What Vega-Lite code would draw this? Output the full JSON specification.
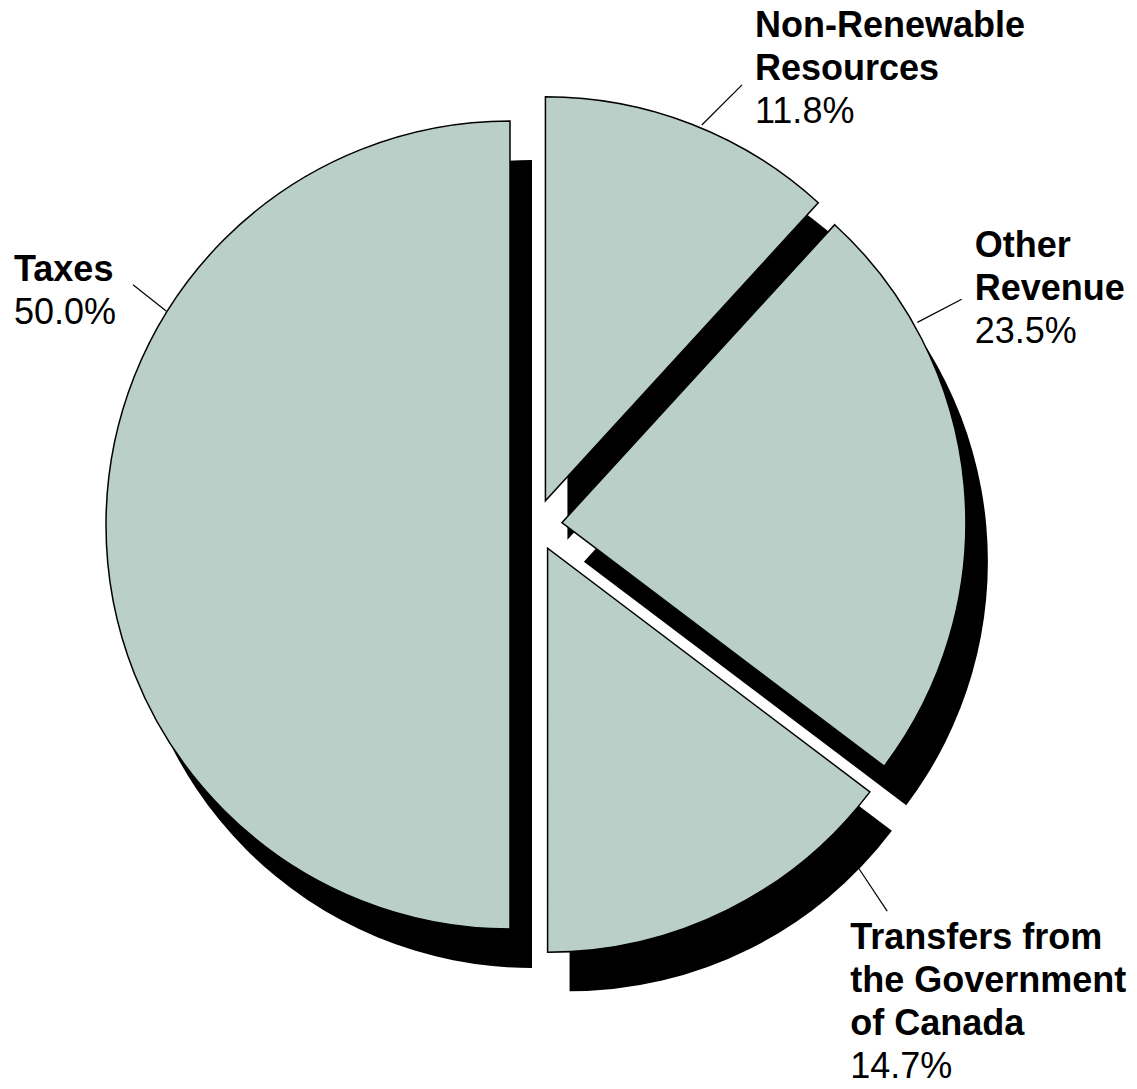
{
  "$schema": "https://vega.github.io/schema/vega-lite/v6.json",
  "width": 1137,
  "height": 1089,
  "autosize": {"type": "fit", "contains": "padding"},
  "padding": 0,
  "background": "white",
  "config": {"view": {"stroke": null}},
  "data": {
    "values": [
      {"category": "Non-Renewable Resources", "label": "Non-Renewable\nResources", "value": 11.8},
      {"category": "Other Revenue", "label": "Other\nRevenue", "value": 23.5},
      {"category": "Transfers from the Government of Canada", "label": "Transfers from\nthe Government\nof Canada", "value": 14.7},
      {"category": "Taxes", "label": "Taxes", "value": 50.0}
    ]
  },
  "transform": [
    {"window": [{"op": "sum", "field": "value", "as": "cumEnd"}, {"op": "row_number", "as": "rn"}], "frame": [null, 0]},
    {"calculate": "datum.cumEnd - datum.value", "as": "cumStart"},
    {"calculate": "PI * (datum.cumStart + datum.cumEnd) / 100", "as": "mid"},
    {"calculate": "26 * sin(datum.mid)", "as": "vx"},
    {"calculate": "-26 * cos(datum.mid)", "as": "vy"},
    {"calculate": "datum.vx + 22", "as": "sx"},
    {"calculate": "datum.vy + 39", "as": "sy"},
    {"calculate": "[22.6, 60.6, 135.8, 301.9][datum.rn - 1] * PI / 180", "as": "a1"},
    {"calculate": "[25.3, 60.8, 136.9, 302.5][datum.rn - 1] * PI / 180", "as": "a2"},
    {"calculate": "[407, 408, 446, 405][datum.rn - 1]", "as": "r1"},
    {"calculate": "[460, 458, 497, 447][datum.rn - 1]", "as": "r2"},
    {"calculate": "datum.vx + datum.r1 * sin(datum.a1)", "as": "lx1"},
    {"calculate": "datum.vy - datum.r1 * cos(datum.a1)", "as": "ly1"},
    {"calculate": "datum.vx + datum.r2 * sin(datum.a2)", "as": "lx2"},
    {"calculate": "datum.vy - datum.r2 * cos(datum.a2)", "as": "ly2"},
    {"calculate": "datum.lx2 + [13, 13, -37, -119][datum.rn - 1]", "as": "tx"},
    {"calculate": "datum.ly2 + [-48, -42, 38, -4][datum.rn - 1]", "as": "ty"},
    {"calculate": "datum.ty + 43 * length(split(datum.label, '\\n'))", "as": "py"},
    {"calculate": "format(datum.value, '.1f') + '%'", "as": "pct"}
  ],
  "layer": [
    {
      "mark": {"type": "arc", "radius": 404, "fill": "black"},
      "encoding": {
        "x": {"field": "sx", "type": "quantitative", "scale": {"domain": [-536, 601], "nice": false, "zero": false}, "axis": null},
        "y": {"field": "sy", "type": "quantitative", "scale": {"domain": [-525, 564], "nice": false, "zero": false, "reverse": true}, "axis": null},
        "theta": {"field": "cumStart", "type": "quantitative", "stack": null, "scale": {"domain": [0, 100], "nice": false}},
        "theta2": {"field": "cumEnd"}
      }
    },
    {
      "mark": {"type": "arc", "radius": 404, "fill": "#B9CFC7", "stroke": "black", "strokeWidth": 1.5},
      "encoding": {
        "x": {"field": "vx", "type": "quantitative", "scale": {"domain": [-536, 601], "nice": false, "zero": false}, "axis": null},
        "y": {"field": "vy", "type": "quantitative", "scale": {"domain": [-525, 564], "nice": false, "zero": false, "reverse": true}, "axis": null},
        "theta": {"field": "cumStart", "type": "quantitative", "stack": null, "scale": {"domain": [0, 100], "nice": false}},
        "theta2": {"field": "cumEnd"},
        "tooltip": [{"field": "category", "type": "nominal"}, {"field": "pct", "type": "nominal"}]
      }
    },
    {
      "mark": {"type": "rule", "color": "black", "strokeWidth": 1.2},
      "encoding": {
        "x": {"field": "lx1", "type": "quantitative", "scale": {"domain": [-536, 601], "nice": false, "zero": false}, "axis": null},
        "y": {"field": "ly1", "type": "quantitative", "scale": {"domain": [-525, 564], "nice": false, "zero": false, "reverse": true}, "axis": null},
        "x2": {"field": "lx2"},
        "y2": {"field": "ly2"}
      }
    },
    {
      "mark": {"type": "text", "font": "Liberation Sans", "fontSize": 36, "fontWeight": "bold", "align": "left", "baseline": "alphabetic", "lineBreak": "\n", "lineHeight": 43, "color": "black"},
      "encoding": {
        "x": {"field": "tx", "type": "quantitative", "scale": {"domain": [-536, 601], "nice": false, "zero": false}, "axis": null},
        "y": {"field": "ty", "type": "quantitative", "scale": {"domain": [-525, 564], "nice": false, "zero": false, "reverse": true}, "axis": null},
        "text": {"field": "label", "type": "nominal"}
      }
    },
    {
      "mark": {"type": "text", "font": "Liberation Sans", "fontSize": 36, "fontWeight": "normal", "align": "left", "baseline": "alphabetic", "color": "black"},
      "encoding": {
        "x": {"field": "tx", "type": "quantitative", "scale": {"domain": [-536, 601], "nice": false, "zero": false}, "axis": null},
        "y": {"field": "py", "type": "quantitative", "scale": {"domain": [-525, 564], "nice": false, "zero": false, "reverse": true}, "axis": null},
        "text": {"field": "pct", "type": "nominal"}
      }
    }
  ]
}
